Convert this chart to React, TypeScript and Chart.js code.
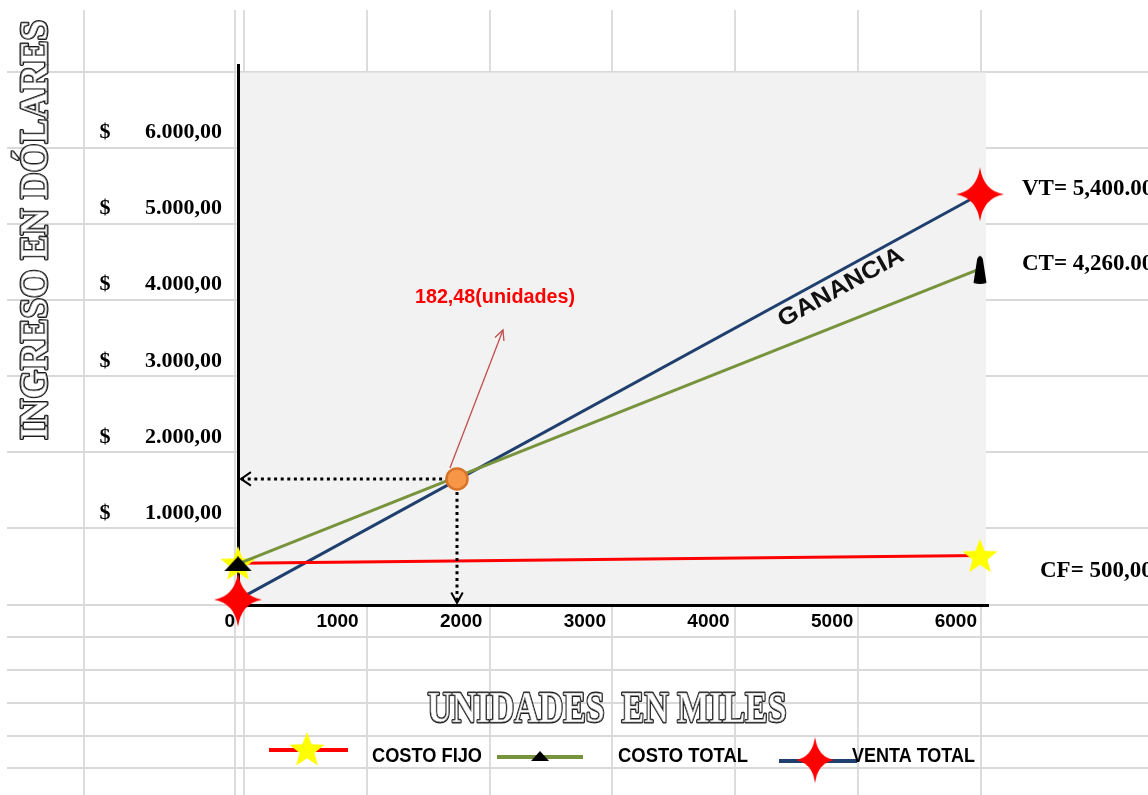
import React, { useEffect, useRef } from 'react';
import { Chart, registerables } from 'chart.js';

Chart.register(...registerables);

// ---------------- data ----------------
const UNITS = [0, 6000];
const COSTO_FIJO = [550, 650];
const COSTO_TOTAL = [540, 4420];
const VENTA_TOTAL = [70, 5400];
const EQUILIBRIO_UNITS = [1771];
const EQUILIBRIO_INGRESO = [1658];
const X_TICKS = [0, 1000, 2000, 3000, 4000, 5000, 6000];
const Y_TICKS = [1000, 2000, 3000, 4000, 5000, 6000];
const SERIES_NAMES = ['COSTO FIJO', 'COSTO TOTAL', 'VENTA TOTAL'];
const END_LABELS = ['CF= 500,00', 'CT= 4,260.00', 'VT= 5,400.00'];
const NOTE_TEXT = '182,48(unidades)';
const PROFIT_TEXT = 'GANANCIA';
const X_TITLE = 'UNIDADES  EN MILES';
const Y_TITLE = 'INGRESO EN DÓLARES';

// ---------------- layout / style ----------------
const W = 1148;
const H = 795;
const X_MAX = 6065;
const Y_MAX = 7100;
const PLOT_TOP_VALUE = 7000;
const SHEET_COLS = [84, 235, 244, 367, 490, 612, 735, 858, 981];
const SHEET_ROWS = [72, 148, 224, 300, 376, 452, 528, 605, 637, 670, 703, 736, 768];
const SERIF = '"Liberation Serif", "Times New Roman", serif';
const SANS = '"Liberation Sans", Arial, sans-serif';
const RED = '#ff0000';
const GREEN = '#77933c';
const NAVY = '#1f3f6e';

const fmtMoney = (v: number) => {
  const th = Math.floor(v / 1000);
  const rest = String(Math.round(v % 1000)).padStart(3, '0');
  return `${th}.${rest},00`;
};

function makeCanvas(w: number, h: number, draw: (c: CanvasRenderingContext2D) => void) {
  const c = document.createElement('canvas');
  c.width = w;
  c.height = h;
  const ctx = c.getContext('2d')!;
  draw(ctx);
  return c;
}

function star5(w: number, h: number) {
  return makeCanvas(w, h, (ctx) => {
    const cx = w / 2, cy = h / 2 + 1.5;
    const ro = h / 2 + 0.5, ri = ro * 0.42;
    ctx.beginPath();
    for (let k = 0; k < 10; k++) {
      const a = -Math.PI / 2 + (k * Math.PI) / 5;
      const r = k % 2 === 0 ? ro : ri;
      const px = cx + r * Math.cos(a) * (w / h);
      const py = cy + r * Math.sin(a);
      if (k === 0) ctx.moveTo(px, py); else ctx.lineTo(px, py);
    }
    ctx.closePath();
    ctx.fillStyle = '#ffff00';
    ctx.fill();
  });
}

function star4(w: number, h: number) {
  return makeCanvas(w, h, (ctx) => {
    const cx = w / 2, cy = h / 2;
    const k = 3.5;
    ctx.beginPath();
    ctx.moveTo(cx, 0);
    ctx.quadraticCurveTo(cx + k, cy - k, w, cy);
    ctx.quadraticCurveTo(cx + k, cy + k, cx, h);
    ctx.quadraticCurveTo(cx - k, cy + k, 0, cy);
    ctx.quadraticCurveTo(cx - k, cy - k, cx, 0);
    ctx.closePath();
    ctx.fillStyle = '#ff0000';
    ctx.fill();
  });
}

function triangle(w: number, h: number) {
  return makeCanvas(w, h, (ctx) => {
    ctx.beginPath();
    ctx.moveTo(w / 2, 0);
    ctx.lineTo(w, h);
    ctx.lineTo(0, h);
    ctx.closePath();
    ctx.fillStyle = '#000';
    ctx.fill();
  });
}

function bullet(w: number, h: number) {
  return makeCanvas(w, h, (ctx) => {
    ctx.beginPath();
    ctx.moveTo(0.5, h - 1);
    ctx.lineTo(w * 0.3, 5);
    ctx.quadraticCurveTo(w / 2, -1, w * 0.7, 5);
    ctx.lineTo(w - 0.5, h - 1);
    ctx.quadraticCurveTo(w / 2, h + 1, 0.5, h - 1);
    ctx.closePath();
    ctx.fillStyle = '#000';
    ctx.fill();
  });
}

function fitText(
  ctx: CanvasRenderingContext2D, text: string, x: number, y: number, font: string,
  width: number, align: CanvasTextAlign, color: string, rotation = 0,
  baseline: CanvasTextBaseline = 'alphabetic'
) {
  ctx.save();
  ctx.font = font;
  const m = ctx.measureText(text).width;
  ctx.translate(x, y);
  ctx.rotate(rotation);
  ctx.scale(width / m, 1);
  ctx.textAlign = align;
  ctx.textBaseline = baseline;
  ctx.fillStyle = color;
  ctx.fillText(text, 0, 0);
  ctx.restore();
}

function outlinedTitle(
  ctx: CanvasRenderingContext2D, text: string, x: number, y: number, font: string,
  length: number, rotation: number
) {
  ctx.save();
  ctx.font = font;
  const m = ctx.measureText(text).width;
  ctx.translate(x, y);
  ctx.rotate(rotation);
  ctx.scale(length / m, 1);
  ctx.textAlign = 'center';
  ctx.textBaseline = 'alphabetic';
  ctx.lineJoin = 'round';
  ctx.strokeStyle = '#1c1c1c';
  ctx.lineWidth = 3;
  ctx.strokeText(text, 0, 0);
  ctx.fillStyle = '#ffffff';
  ctx.fillText(text, 0, 0);
  ctx.strokeStyle = '#8a8a8a';
  ctx.lineWidth = 0.7;
  ctx.strokeText(text, 0, 0);
  ctx.restore();
}

function openHead(ctx: CanvasRenderingContext2D, tx: number, ty: number, angle: number, len: number, spread: number) {
  ctx.beginPath();
  ctx.moveTo(tx - len * Math.cos(angle - spread), ty - len * Math.sin(angle - spread));
  ctx.lineTo(tx, ty);
  ctx.lineTo(tx - len * Math.cos(angle + spread), ty - len * Math.sin(angle + spread));
  ctx.stroke();
}

export default function App() {
  const ref = useRef<HTMLCanvasElement | null>(null);

  useEffect(() => {
    const canvas = ref.current;
    if (!canvas) return;

    const yellowStar = star5(36, 36);
    const redStar = star4(48, 54);
    const blackTri = triangle(28, 15);
    const blackBullet = bullet(14, 30);

    const decor = {
      id: 'decor',
      beforeDraw(chart: any) {
        const { ctx, chartArea, scales } = chart;
        ctx.save();
        ctx.fillStyle = '#ffffff';
        ctx.fillRect(0, 0, chart.width, chart.height);
        ctx.strokeStyle = '#d9d9d9';
        ctx.lineWidth = 1.8;
        for (const x of SHEET_COLS) {
          ctx.beginPath(); ctx.moveTo(x, 10); ctx.lineTo(x, chart.height); ctx.stroke();
        }
        for (const y of SHEET_ROWS) {
          ctx.beginPath(); ctx.moveTo(7, y); ctx.lineTo(chart.width, y); ctx.stroke();
        }
        const top = scales.y.getPixelForValue(PLOT_TOP_VALUE);
        ctx.fillStyle = '#f2f2f2';
        ctx.fillRect(chartArea.left, top, chartArea.right - 2 - chartArea.left, chartArea.bottom - top);
        ctx.restore();
      },
      afterDatasetsDraw(chart: any) {
        const { ctx, chartArea, scales } = chart;
        const xs = scales.x, ys = scales.y;
        const bx = xs.getPixelForValue(EQUILIBRIO_UNITS[0]);
        const by = ys.getPixelForValue(EQUILIBRIO_INGRESO[0]);
        ctx.save();
        // dotted arrow heads
        ctx.strokeStyle = '#000';
        ctx.lineWidth = 2;
        openHead(ctx, chartArea.left + 3, by, Math.PI, 12, 0.6);
        openHead(ctx, bx, chartArea.bottom - 2, Math.PI / 2, 12, 0.5);
        // note arrow
        const ax0 = xs.getPixelForValue(1714), ay0 = ys.getPixelForValue(1801);
        const ax1 = xs.getPixelForValue(2143), ay1 = ys.getPixelForValue(3616);
        ctx.strokeStyle = '#c0504d';
        ctx.lineWidth = 1.3;
        ctx.beginPath(); ctx.moveTo(ax0, ay0); ctx.lineTo(ax1, ay1); ctx.stroke();
        openHead(ctx, ax1, ay1, Math.atan2(ay1 - ay0, ax1 - ax0), 11, 0.45);
        // note text
        fitText(ctx, NOTE_TEXT, xs.getPixelForValue(2078), ys.getPixelForValue(4049),
          `bold 20px ${SANS}`, 160, 'center', '#ff0000', 0, 'middle');
        // ganancia
        fitText(ctx, PROFIT_TEXT, xs.getPixelForValue(4876), ys.getPixelForValue(4170),
          `bold 24px ${SANS}`, 140, 'center', '#111111', -29 * Math.PI / 180, 'middle');
        ctx.restore();
      },
      afterDraw(chart: any) {
        const { ctx, chartArea, scales } = chart;
        const ys = scales.y;
        ctx.save();
        // "$" signs for y ticks
        ctx.font = `bold 22px ${SERIF}`;
        ctx.fillStyle = '#000';
        ctx.textAlign = 'center';
        ctx.textBaseline = 'middle';
        for (const v of Y_TICKS) ctx.fillText('$', 105, ys.getPixelForValue(v) - 16);
        // end labels
        ctx.textAlign = 'left';
        ctx.textBaseline = 'alphabetic';
        ctx.font = `bold 23px ${SERIF}`;
        ctx.fillText(END_LABELS[2], chartArea.right + 34, ys.getPixelForValue(VENTA_TOTAL[1]) + 1);
        ctx.fillText(END_LABELS[1], chartArea.right + 34, ys.getPixelForValue(COSTO_TOTAL[1]) + 1);
        ctx.fillText(END_LABELS[0], chartArea.right + 52, ys.getPixelForValue(COSTO_FIJO[1]) + 21);
        // titles
        outlinedTitle(ctx, X_TITLE, 607, 722, `bold 44px ${SERIF}`, 359, 0);
        outlinedTitle(ctx, Y_TITLE, 47, 230, `bold 41px ${SERIF}`, 420, -Math.PI / 2);
        // legend
        ctx.lineCap = 'butt';
        ctx.lineWidth = 4;
        ctx.strokeStyle = RED;
        ctx.beginPath(); ctx.moveTo(269, 750); ctx.lineTo(348, 750); ctx.stroke();
        ctx.drawImage(yellowStar, 307 - 18, 750 - 19, 36, 36);
        ctx.strokeStyle = GREEN;
        ctx.beginPath(); ctx.moveTo(497, 757); ctx.lineTo(583, 757); ctx.stroke();
        ctx.drawImage(blackTri, 540 - 9, 751, 18, 10);
        ctx.strokeStyle = NAVY;
        ctx.beginPath(); ctx.moveTo(779, 761); ctx.lineTo(857, 761); ctx.stroke();
        ctx.drawImage(redStar, 815 - 19, 760 - 23, 38, 46);
        fitText(ctx, SERIES_NAMES[0], 372, 762, `bold 21px ${SANS}`, 110, 'left', '#000');
        fitText(ctx, SERIES_NAMES[1], 618, 762, `bold 21px ${SANS}`, 130, 'left', '#000');
        fitText(ctx, SERIES_NAMES[2], 852, 762, `bold 21px ${SANS}`, 123, 'left', '#000');
        ctx.restore();
      },
    };

    const pts = (ys: number[]) => UNITS.map((x, i) => ({ x, y: ys[i] }));

    const chart = new Chart(canvas, {
      type: 'scatter',
      data: {
        datasets: [
          {
            label: SERIES_NAMES[0], data: pts(COSTO_FIJO), showLine: true,
            borderColor: RED, backgroundColor: RED, borderWidth: 3,
            pointStyle: [yellowStar, yellowStar] as any, pointRadius: 5, order: 2, clip: false as any,
          },
          {
            label: SERIES_NAMES[1], data: pts(COSTO_TOTAL), showLine: true,
            borderColor: GREEN, backgroundColor: GREEN, borderWidth: 3,
            pointStyle: [blackTri, blackBullet] as any, pointRadius: 5, order: 1, clip: false as any,
          },
          {
            label: SERIES_NAMES[2], data: pts(VENTA_TOTAL), showLine: true,
            borderColor: NAVY, backgroundColor: NAVY, borderWidth: 3,
            pointStyle: [redStar, redStar] as any, pointRadius: 5, order: 3, clip: false as any,
          },
          {
            label: 'guia-h',
            data: [{ x: 25, y: EQUILIBRIO_INGRESO[0] }, { x: EQUILIBRIO_UNITS[0], y: EQUILIBRIO_INGRESO[0] }],
            showLine: true, borderColor: '#000', borderWidth: 3, borderDash: [3, 3.6],
            pointRadius: 0, order: 0, clip: false as any,
          },
          {
            label: 'guia-v',
            data: [{ x: EQUILIBRIO_UNITS[0], y: EQUILIBRIO_INGRESO[0] }, { x: EQUILIBRIO_UNITS[0], y: 40 }],
            showLine: true, borderColor: '#000', borderWidth: 3, borderDash: [3, 3.6],
            pointRadius: 0, order: 0, clip: false as any,
          },
          {
            label: 'equilibrio',
            data: EQUILIBRIO_UNITS.map((x, i) => ({ x, y: EQUILIBRIO_INGRESO[i] })),
            showLine: false, pointRadius: 10.5, pointBorderWidth: 2.5,
            pointBackgroundColor: '#f79646', pointBorderColor: '#d9732a', order: -1,
          },
        ],
      },
      options: {
        responsive: false,
        animation: false,
        events: [],
        layout: { padding: { top: 65, right: 160, left: 0, bottom: 0 } },
        plugins: { legend: { display: false }, tooltip: { enabled: false }, title: { display: false } },
        scales: {
          x: {
            type: 'linear', min: 0, max: X_MAX,
            grid: { display: false, drawTicks: false },
            border: { display: true, color: '#000', width: 3 },
            afterBuildTicks: (s: any) => { s.ticks = X_TICKS.map((value) => ({ value })); },
            ticks: {
              autoSkip: false, maxRotation: 0, minRotation: 0,
              align: 'end', labelOffset: -3, padding: 5,
              color: '#000', font: { family: SANS, size: 19, weight: 'bold' },
              callback: (v: any) => String(v),
            },
            afterFit: (s: any) => { s.height = H - 605; },
          },
          y: {
            type: 'linear', min: 0, max: Y_MAX,
            grid: { display: false, drawTicks: false },
            border: { display: true, color: '#000', width: 3 },
            afterBuildTicks: (s: any) => { s.ticks = Y_TICKS.map((value) => ({ value })); },
            ticks: {
              autoSkip: false,
              labelOffset: -16, padding: 16,
              color: '#000', font: { family: SERIF, size: 22, weight: 'bold' },
              callback: (v: any) => fmtMoney(Number(v)),
            },
            afterFit: (s: any) => { s.width = 238; },
          },
        },
      } as any,
      plugins: [decor],
    });

    return () => chart.destroy();
  }, []);

  return (
    <div style={{ position: 'absolute', left: 0, top: 0, width: W, height: H, background: '#fff', overflow: 'hidden' }}>
      <canvas ref={ref} width={W} height={H} style={{ display: 'block', width: W, height: H }} />
    </div>
  );
}
